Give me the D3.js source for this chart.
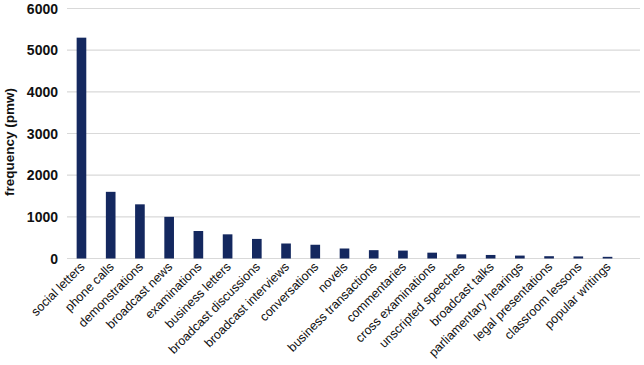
<!DOCTYPE html>
<html>
<head>
<meta charset="utf-8">
<script src="https://cdn.jsdelivr.net/npm/d3@7"></script>
<style>
  body { margin: 0; background: #fff; }
</style>
</head>
<body>
<svg id="chart" width="644" height="365"></svg>
<script>
const categories = ["social letters", "phone calls", "demonstrations", "broadcast news", "examinations",
    "business letters", "broadcast discussions", "broadcast interviews", "conversations", "novels",
    "business transactions", "commentaries", "cross examinations", "unscripted speeches", "broadcast talks",
    "parliamentary hearings", "legal presentations", "classroom lessons", "popular writings"];
const frequency = [5300, 1600, 1300, 1000, 660, 580, 470, 360, 330, 240, 200, 190, 140, 100, 85, 70, 55, 50, 40];
const yTicks = [0, 1000, 2000, 3000, 4000, 5000, 6000];

const svg = d3.select("#chart");
const plotLeft = 67, plotRight = 640, plotTop = 8.5, plotBottom = 258.5;

const x = d3.scaleBand()
    .domain(categories)
    .range([plotLeft, 622])
    .paddingInner(0.67)
    .paddingOuter(0.33);

const y = d3.scaleLinear().domain([0, 6000]).range([plotBottom, plotTop]);

// grid lines
svg.append("g")
    .selectAll("line")
    .data(yTicks)
    .join("line")
    .attr("x1", plotLeft)
    .attr("x2", plotRight)
    .attr("y1", (d) => y(d))
    .attr("y2", (d) => y(d))
    .attr("stroke", "#d9d9d9")
    .attr("stroke-width", 1.2);

// y tick labels
svg.append("g")
    .selectAll("text")
    .data(yTicks)
    .join("text")
    .attr("x", 58)
    .attr("y", (d) => y(d))
    .attr("dy", "0.36em")
    .attr("text-anchor", "end")
    .style("font-family", "Liberation Sans, Arial, sans-serif")
    .style("font-size", "14px")
    .style("font-weight", "bold")
    .attr("fill", "#111")
    .text((d) => d);

// bars
svg.append("g")
    .selectAll("rect")
    .data(categories)
    .join("rect")
    .attr("x", (d) => x(d))
    .attr("y", (d, i) => y(frequency[i]))
    .attr("width", x.bandwidth())
    .attr("height", (d, i) => plotBottom - y(frequency[i]))
    .attr("fill", "#14285f");

// x labels
svg.append("g")
    .selectAll("text")
    .data(categories)
    .join("text")
    .attr("transform", (d) => `translate(${x(d) + x.bandwidth() / 2 + 4}, ${plotBottom + 9}) rotate(-45)`)
    .attr("text-anchor", "end")
    .style("font-family", "Liberation Sans, Arial, sans-serif")
    .style("font-size", "12.5px")
    .attr("fill", "#111")
    .text((d) => d);

// y axis title
svg.append("text")
    .attr("transform", "translate(14, 142) rotate(-90)")
    .attr("text-anchor", "middle")
    .style("font-family", "Liberation Sans, Arial, sans-serif")
    .style("font-size", "13.5px")
    .style("font-weight", "bold")
    .attr("fill", "#111")
    .text("frequency (pmw)");
</script>
</body>
</html>
